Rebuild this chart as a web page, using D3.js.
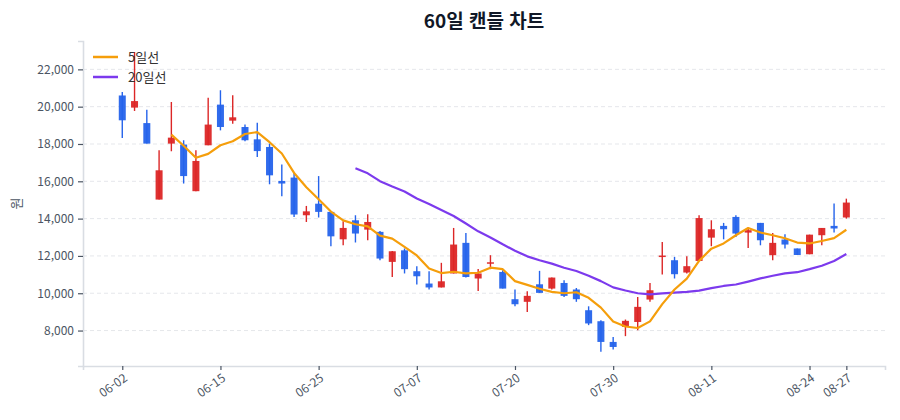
<!DOCTYPE html>
<html lang="ko">
<head>
<meta charset="utf-8">
<title>60일 캔들 차트</title>
<script src="https://cdn.jsdelivr.net/npm/d3@7"></script>
<style>
  html, body { margin: 0; padding: 0; background: #fff; }
  svg { display: block; font-family: "Noto Sans CJK KR", "Noto Sans", sans-serif; }
</style>
</head>
<body>
<div id="main"></div>
<script>
"use strict";

const fontStack = "'Noto Sans CJK KR', 'Noto Sans', sans-serif";

// 60 trading days, index 0..59
const opens = [20600, 19950, 19120, 15020, 18020, 17970, 15470, 17930, 20110, 19250,
               18910, 18250, 17840, 16020, 16200, 14180, 14800, 14360, 12890, 13910,
               13410, 13290, 11680, 12300, 11180, 10520, 10310, 11060, 12700, 10790,
               11620, 11140, 9680, 9540, 10480, 10250, 10550, 10200, 9090, 8500,
               7390, 8200, 8460, 9660, 11980, 11770, 11110, 11730, 12980, 13610,
               14090, 13250, 13770, 12040, 12880, 12400, 12090, 13110, 13610, 14060];
const highs = [20790, 22930, 19840, 17660, 20250, 18200, 17660, 20480, 20880, 20610,
               19040, 19140, 18020, 16900, 16470, 14680, 16280, 14390, 13860, 14180,
               14230, 13340, 12270, 12400, 11450, 11180, 11630, 13500, 13230, 11300,
               12040, 11230, 10200, 10110, 11200, 10840, 10700, 10280, 9300, 8550,
               7660, 8590, 9800, 10550, 12750, 11950, 11980, 14180, 13910, 13770,
               14180, 13520, 13770, 13230, 13160, 12400, 13140, 13500, 14810, 15070];
const lows = [18320, 19770, 18020, 15020, 17610, 15880, 15470, 17930, 18730, 19090,
              18140, 17300, 15840, 15200, 14090, 13820, 14060, 12520, 12570, 12720,
              12840, 11770, 10870, 11060, 10470, 10200, 10310, 11060, 10840, 10120,
              11290, 10250, 9300, 9000, 10020, 10200, 9800, 9540, 8290, 6860,
              6980, 7700, 8020, 9540, 11000, 10790, 11060, 11730, 12520, 12890,
              13020, 12430, 12570, 11770, 12400, 12050, 12090, 12570, 13250, 14000];
const closes = [19270, 20300, 18020, 16590, 18340, 16280, 17090, 19040, 18910, 19430,
                18200, 17620, 16320, 15880, 14220, 14390, 14360, 13050, 13500, 13200,
                13820, 11860, 12250, 11290, 10910, 10310, 10640, 12610, 10870, 11060,
                11660, 10250, 9410, 9860, 10020, 10840, 9860, 9680, 8380, 7390,
                7120, 8520, 9270, 10160, 12020, 11020, 11450, 14030, 13430, 13430,
                13200, 13380, 12840, 12700, 12610, 12050, 13140, 13500, 13470, 14860];

// moving average lines (5일선 starts at index 4, 20일선 at index 19)
const ma5Start = 4;
const ma5 = [18504, 17906, 17264, 17468, 17932, 18150, 18534, 18640, 18096, 17490,
             16448, 15686, 15034, 14380, 13904, 13700, 13586, 13086, 12926, 12484,
             12026, 11324, 11080, 11152, 11068, 11098, 11368, 11290, 10650, 10448,
             10240, 10076, 9998, 10052, 9756, 9230, 8486, 8218, 8136, 8492,
             9418, 10198, 10784, 11736, 12390, 12672, 13108, 13494, 13256, 13110,
             12946, 12716, 12668, 12800, 12954, 13404];
const ma20Start = 19;
const ma20 = [16701, 16428, 16006, 15718, 15453, 15081, 14783, 14460, 14139, 13737,
              13318, 12991, 12623, 12277, 11976, 11766, 11589, 11364, 11195, 10939,
              10649, 10314, 10147, 9998, 9941, 9997, 10032, 10073, 10144, 10272,
              10390, 10467, 10624, 10795, 10937, 11067, 11127, 11291, 11475, 11728, 12102];

const tickIndex = [0, 8, 16, 24, 32, 40, 48, 56, 59];
const tickLabels = ["06-02", "06-15", "06-25", "07-07", "07-20", "07-30", "08-11", "08-24", "08-27"];
const yTicks = [8000, 10000, 12000, 14000, 16000, 18000, 20000, 22000];

const legendNames = ["5일선", "20일선"];
const upColor = "#dc2626";
const downColor = "#2563eb";
const ma5Color = "#f59e0b";
const ma20Color = "#7c3aed";

function draw() {
    const width = 900, height = 420;
    const plot = { left: 83, right: 885, top: 41, bottom: 366 };

    const svg = d3.select("#main").append("svg")
        .attr("width", width)
        .attr("height", height);

    const x = d3.scaleLinear().domain([-3.2, 62.15]).range([plot.left, plot.right]);
    const y = d3.scaleLinear().domain([6100, 23520]).range([plot.bottom, plot.top]);

    // horizontal dashed grid
    svg.append("g")
        .selectAll("line")
        .data(yTicks)
        .join("line")
        .attr("x1", plot.left).attr("x2", plot.right)
        .attr("y1", d => y(d)).attr("y2", d => y(d))
        .attr("stroke", "#e5e7eb")
        .attr("stroke-width", 1)
        .attr("stroke-dasharray", "4,3");

    // y axis
    const yAxis = svg.append("g")
        .attr("transform", `translate(${plot.left},0)`)
        .call(d3.axisLeft(y).tickValues(yTicks).tickFormat(d3.format(",")).tickSize(5).tickPadding(4))
        .attr("font-family", fontStack);
    yAxis.select(".domain").attr("stroke", "#d9dde3").attr("stroke-width", 1.6);
    yAxis.selectAll(".tick line").attr("stroke", "#4b5563").attr("stroke-width", 1.2);
    yAxis.selectAll(".tick text").attr("fill", "#4b5563").style("font-size", "12px");

    // x axis (index based, labelled with dates)
    const xAxis = svg.append("g")
        .attr("transform", `translate(0,${plot.bottom})`)
        .call(d3.axisBottom(x).tickValues(tickIndex).tickFormat((d, i) => tickLabels[i]).tickSize(4).tickPadding(4))
        .attr("font-family", fontStack);
    xAxis.select(".domain").attr("stroke", "#d9dde3").attr("stroke-width", 1.6);
    xAxis.selectAll(".tick line").attr("stroke", "#4b5563").attr("stroke-width", 1.2);
    xAxis.selectAll(".tick text")
        .attr("fill", "#4b5563")
        .style("font-size", "12px")
        .style("text-anchor", "end")
        .attr("dx", "-0.3em")
        .attr("dy", "0.55em")
        .attr("transform", "rotate(-35)");

    // candles
    const idx = d3.range(closes.length);
    const candleColor = i => closes[i] >= opens[i] ? upColor : downColor;
    const candles = svg.append("g");
    candles.selectAll("line")
        .data(idx)
        .join("line")
        .attr("x1", i => x(i)).attr("x2", i => x(i))
        .attr("y1", i => y(highs[i])).attr("y2", i => y(lows[i]))
        .attr("stroke", candleColor)
        .attr("stroke-width", 1.4);
    candles.selectAll("rect")
        .data(idx)
        .join("rect")
        .attr("x", i => x(i) - 3.5)
        .attr("width", 7)
        .attr("y", i => y(Math.max(opens[i], closes[i])))
        .attr("height", i => Math.max(1.5, Math.abs(y(opens[i]) - y(closes[i]))))
        .attr("fill", candleColor)
        .attr("fill-opacity", 0.95);

    // moving averages
    const line = d3.line().x(d => x(d[0])).y(d => y(d[1]));
    svg.append("path")
        .datum(ma20.map((v, i) => [i + ma20Start, v]))
        .attr("d", line)
        .attr("fill", "none")
        .attr("stroke", ma20Color)
        .attr("stroke-width", 2.2)
        .attr("stroke-linejoin", "round");
    svg.append("path")
        .datum(ma5.map((v, i) => [i + ma5Start, v]))
        .attr("d", line)
        .attr("fill", "none")
        .attr("stroke", ma5Color)
        .attr("stroke-width", 2.2)
        .attr("stroke-linejoin", "round");

    // legend
    const legend = svg.append("g").attr("transform", "translate(93,57)");
    const item = legend.selectAll("g")
        .data(legendNames)
        .join("g")
        .attr("transform", (d, i) => `translate(0,${i * 20})`);
    item.append("line")
        .attr("x1", 0).attr("x2", 25)
        .attr("stroke", (d, i) => i === 0 ? ma5Color : ma20Color)
        .attr("stroke-width", 2.5);
    item.append("text")
        .attr("x", 35).attr("dy", "0.35em")
        .style("font-size", "13px")
        .attr("fill", "#333")
        .text(d => d);

    // title and y label
    svg.append("text")
        .attr("x", (plot.left + plot.right) / 2)
        .attr("y", 28)
        .attr("text-anchor", "middle")
        .style("font-size", "19px")
        .style("font-weight", "bold")
        .attr("fill", "#111827")
        .text("60일 캔들 차트");

    svg.append("text")
        .attr("transform", `translate(21,${(plot.top + plot.bottom) / 2}) rotate(-90)`)
        .attr("text-anchor", "middle")
        .style("font-size", "13px")
        .attr("fill", "#4b5563")
        .text("원");
}

draw();
</script>
</body>
</html>
